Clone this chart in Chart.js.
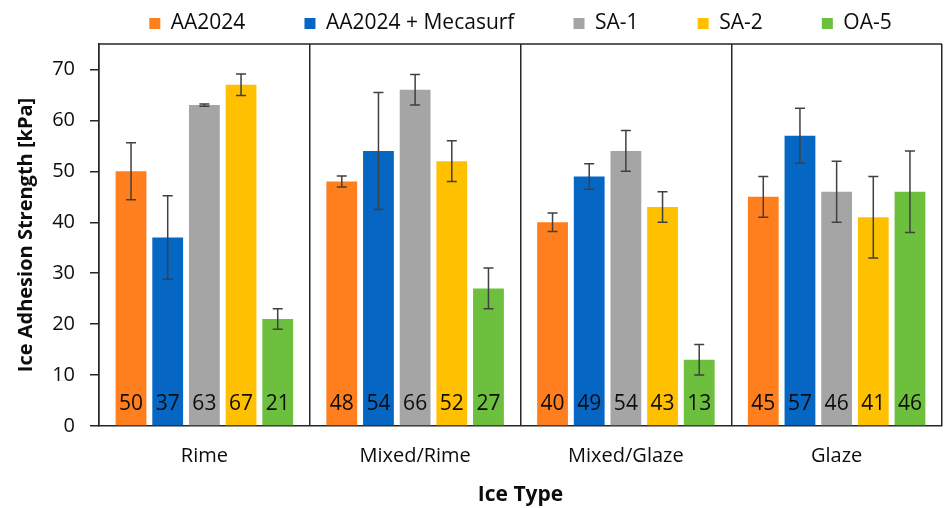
<!DOCTYPE html>
<html>
<head>
<meta charset="utf-8">
<script src="https://cdn.jsdelivr.net/npm/chart.js@4.4.1/dist/chart.umd.min.js"></script>
<style>
  html, body { margin: 0; padding: 0; background: #fff; }
  #wrap { width: 944px; height: 508px; }
</style>
</head>
<body>
<div id="wrap"><canvas id="iceChart"></canvas></div>
<script>
// categories (x axis)
var iceTypes = ['Rime', 'Mixed/Rime', 'Mixed/Glaze', 'Glaze'];

// series names and colours
var seriesNames = ['AA2024', 'AA2024 + Mecasurf', 'SA-1', 'SA-2', 'OA-5'];
var seriesColors = ['#FF7F1E', '#0566C4', '#A5A5A5', '#FFC000', '#6DBF3E'];

// mean ice adhesion strength [kPa]
var aa2024 = [50, 48, 40, 45];
var mecasurf = [37, 54, 49, 57];
var sa1 = [63, 66, 54, 46];
var sa2 = [67, 52, 43, 41];
var oa5 = [21, 27, 13, 46];

// error bar (+/-)
var aa2024Err = [5.6, 1.1, 1.8, 4];
var mecasurfErr = [8.2, 11.5, 2.5, 5.4];
var sa1Err = [0.2, 3, 4, 6];
var sa2Err = [2.1, 4, 3, 8];
var oa5Err = [2, 4, 3, 8];

// y axis
var yMin = 0, yMax = 75, yStep = 5;

var seriesValues = [aa2024, mecasurf, sa1, sa2, oa5];
var seriesErrors = [aa2024Err, mecasurfErr, sa1Err, sa2Err, oa5Err];

var textColor = '#0d0d0d';
var lineColor = '#262626';
var font = 'Open Sans';

// error bars drawn on top of the bars
var errorBars = {
    id: 'errorBars',
    afterDatasetsDraw: function (chart) {
        var ctx = chart.ctx;
        var y = chart.scales.y;
        ctx.save();
        ctx.strokeStyle = '#404040';
        ctx.lineWidth = 1.5;
        chart.data.datasets.forEach(function (ds, i) {
            var meta = chart.getDatasetMeta(i);
            meta.data.forEach(function (bar, j) {
                var v = ds.data[j];
                var e = ds.errors[j];
                var top = y.getPixelForValue(v + e);
                var bot = y.getPixelForValue(v - e);
                ctx.beginPath();
                ctx.moveTo(bar.x, top); ctx.lineTo(bar.x, bot);
                ctx.moveTo(bar.x - 5, top); ctx.lineTo(bar.x + 5, top);
                ctx.moveTo(bar.x - 5, bot); ctx.lineTo(bar.x + 5, bot);
                ctx.stroke();
            });
        });
        ctx.restore();
    }
};

// value printed near the bottom of each bar
var valueLabels = {
    id: 'valueLabels',
    afterDatasetsDraw: function (chart) {
        var ctx = chart.ctx;
        var base = chart.scales.y.getPixelForValue(0);
        ctx.save();
        ctx.font = '21px "' + font + '"';
        ctx.fillStyle = textColor;
        ctx.textAlign = 'center';
        ctx.textBaseline = 'middle';
        chart.data.datasets.forEach(function (ds, i) {
            chart.getDatasetMeta(i).data.forEach(function (bar, j) {
                ctx.fillText(String(ds.data[j]), bar.x, base - 22);
            });
        });
        ctx.restore();
    }
};

// top edge of the plot frame
var frameTop = {
    id: 'frameTop',
    afterDraw: function (chart) {
        var a = chart.chartArea;
        var ctx = chart.ctx;
        ctx.save();
        ctx.strokeStyle = lineColor;
        ctx.lineWidth = 1.5;
        ctx.beginPath();
        ctx.moveTo(a.left, a.top);
        ctx.lineTo(a.right, a.top);
        ctx.stroke();
        ctx.restore();
    }
};

var datasets = seriesNames.map(function (name, i) {
    return {
        label: name,
        data: seriesValues[i],
        errors: seriesErrors[i],
        backgroundColor: seriesColors[i],
        borderWidth: 0,
        categoryPercentage: 0.87,
        barPercentage: 0.84
    };
});

new Chart(document.getElementById('iceChart'), {
    type: 'bar',
    data: { labels: iceTypes, datasets: datasets },
    plugins: [errorBars, valueLabels, frameTop],
    options: {
        responsive: true,
        maintainAspectRatio: false,
        animation: false,
        layout: { padding: { top: 3, right: 2, bottom: 0, left: 0 } },
        plugins: {
            tooltip: { enabled: false },
            legend: {
                position: 'top',
                fullSize: false,
                labels: {
                    boxWidth: 11,
                    boxHeight: 11,
                    padding: 10,
                    color: textColor,
                    font: { family: font, size: 21 },
                    generateLabels: function (chart) {
                        var items = Chart.defaults.plugins.legend.labels.generateLabels(chart);
                        items.forEach(function (it, i) {
                            // extra room between entries
                            if (i < items.length - 1) it.text += '\u00a0'.repeat(9);
                            it.lineWidth = 0;
                        });
                        return items;
                    }
                }
            }
        },
        scales: {
            x: {
                afterFit: function (s) { s.height = 82; },
                grid: { offset: true, drawTicks: false, color: lineColor, lineWidth: 1.5 },
                border: { color: lineColor, width: 1.5 },
                ticks: { color: textColor, padding: 18, font: { family: font, size: 20 } },
                title: {
                    display: true,
                    text: 'Ice Type',
                    color: textColor,
                    padding: { top: 0, bottom: 0 },
                    font: { family: font, size: 21, weight: 'bold' }
                }
            },
            y: {
                min: yMin,
                max: yMax,
                afterFit: function (s) { s.width = 99; },
                grid: { drawOnChartArea: false, drawTicks: true, tickLength: 9, color: lineColor, lineWidth: 1.5 },
                border: { color: lineColor, width: 1.5 },
                ticks: {
                    stepSize: yStep,
                    padding: 15,
                    color: textColor,
                    font: { family: font, size: 20 },
                    callback: function (v) { return v % 10 === 0 ? v : ''; }
                },
                title: {
                    display: true,
                    text: 'Ice Adhesion Strength [kPa]',
                    color: textColor,
                    padding: { top: 14, bottom: 0 },
                    font: { family: font, size: 20, weight: 'bold' }
                }
            }
        }
    }
});
</script>
</body>
</html>
